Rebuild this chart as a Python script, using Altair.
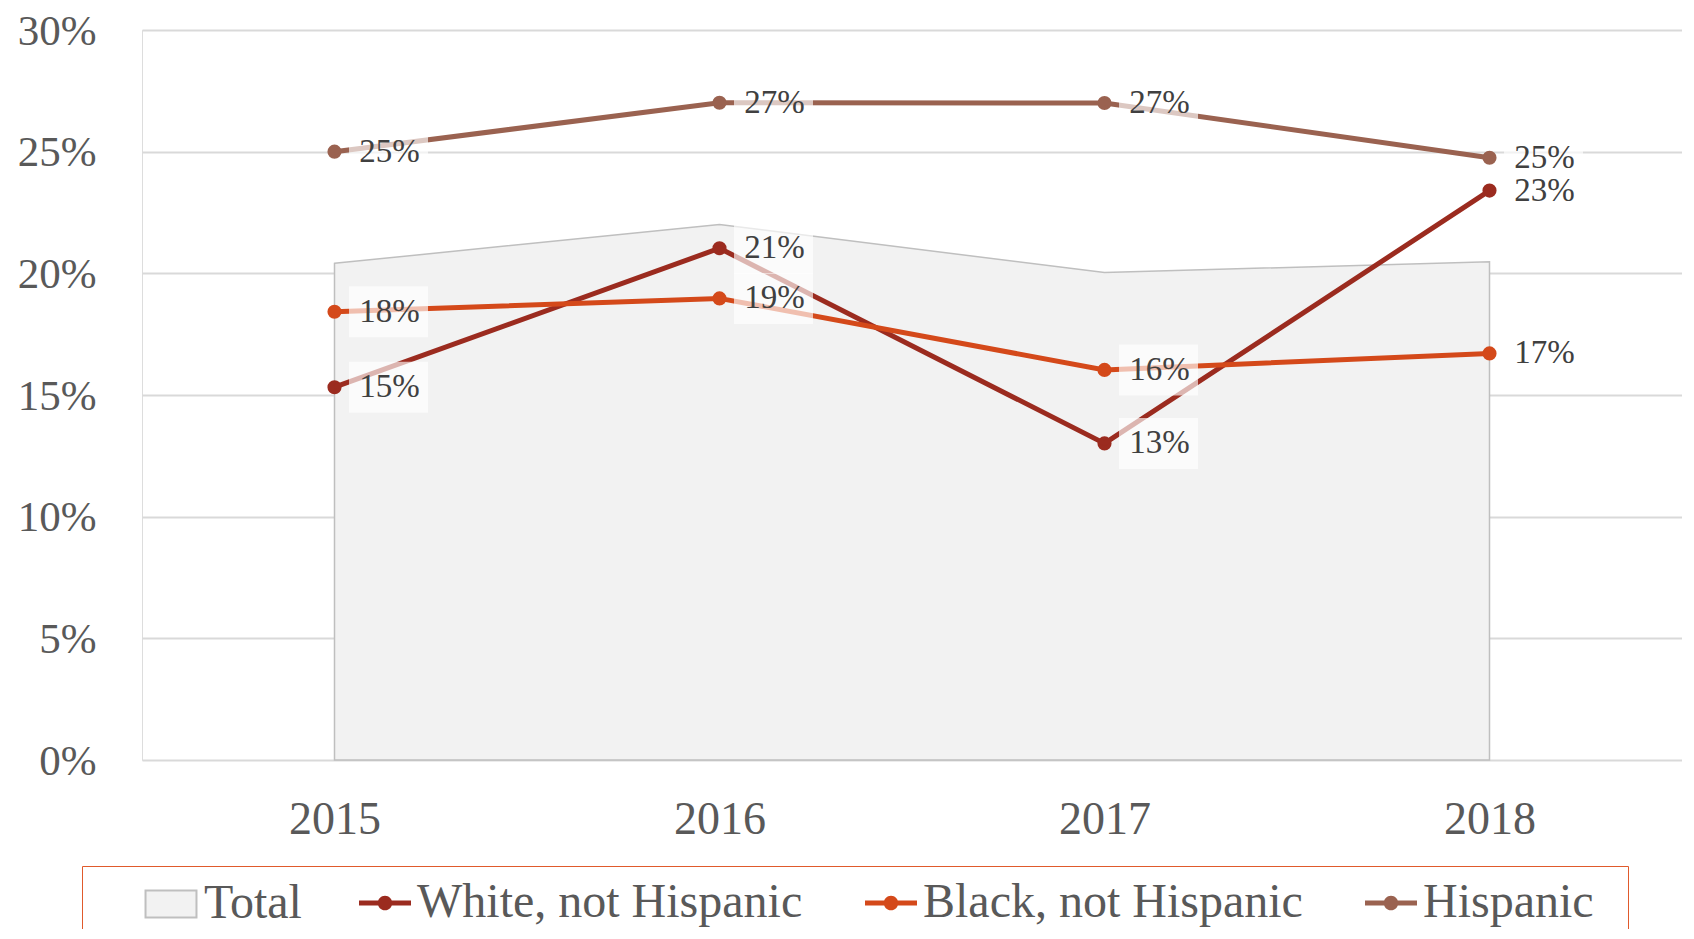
import altair as alt
import pandas as pd

years = ["2015", "2016", "2017", "2018"]
total = [0.2041, 0.2201, 0.2003, 0.2048]
white = [0.1532, 0.2103, 0.1301, 0.2340]
black = [0.1842, 0.1897, 0.1603, 0.1671]
hispanic = [0.2500, 0.2701, 0.2700, 0.2475]

line_names = ["White, not Hispanic", "Black, not Hispanic", "Hispanic"]
line_colors = ["#9B2B1F", "#D4491A", "#9A6250"]
total_name = ["Total"]
total_color = ["#F2F2F2"]
y_ticks = [0, 0.05, 0.10, 0.15, 0.20, 0.25, 0.30]

FONT = "Liberation Serif"

total_df = pd.DataFrame({"year": years, "value": total, "series": "Total"})
rows = []
for name, vals in zip(line_names, [white, black, hispanic]):
    for y, v in zip(years, vals):
        rows.append({"year": y, "value": v, "series": name})
lines_df = pd.DataFrame(rows)

RECT = "M-0.98,-0.52L0.98,-0.52L0.98,0.52L-0.98,0.52Z"
LINEDOT = ("M-1,-0.1L1,-0.1L1,0.1L-1,0.1Z "
           "M0.28,0A0.28,0.28 0 1,1 -0.28,0A0.28,0.28 0 1,1 0.28,0Z")
BOX = "M-0.9875,-0.6375L0.9875,-0.6375L0.9875,0.6375L-0.9875,0.6375Z"

legend_total = alt.Legend(
    title="\u00a0",
    titleOrient="right",
    titlePadding=1315,
    titleFontSize=8,
    orient="none",
    legendX=-60,
    legendY=836,
    direction="horizontal",
    padding=11,
    fillColor="white",
    strokeColor="#E05A2C",
    symbolType=RECT,
    symbolSize=2704,
    symbolOffset=51,
    symbolStrokeColor="#BFBFBF",
    symbolStrokeWidth=2,
    symbolOpacity=1,
    labelOffset=6,
    labelFont=FONT,
    labelFontSize=48,
    labelColor="#595959",
    labelLimit=800,
    zindex=1,
)

legend_lines = alt.Legend(
    title=None,
    orient="none",
    legendX=155,
    legendY=836,
    direction="horizontal",
    columns=3,
    padding=11,
    symbolType=LINEDOT,
    symbolSize=2704,
    symbolOffset=51,
    symbolStrokeWidth=0,
    symbolOpacity=1,
    labelOffset=6,
    columnPadding=11,
    labelFont=FONT,
    labelFontSize=48,
    labelColor="#595959",
    labelLimit=800,
    zindex=2,
)

x = alt.X("year:O", scale=alt.Scale(type="point", padding=0.5),
          axis=alt.Axis(title=None, labelAngle=0, domain=False, ticks=False,
                        labelFont=FONT, labelFontSize=46, labelColor="#595959",
                        labelPadding=73, labelBaseline="alphabetic"))
y = alt.Y("value:Q", scale=alt.Scale(domain=[0, 0.30], nice=False),
          axis=alt.Axis(title=None, values=y_ticks, format=".0%", grid=True,
                        gridColor="#D9D9D9", gridWidth=2, domain=False, ticks=False,
                        labelFont=FONT, labelFontSize=43, labelColor="#595959",
                        labelPadding=46, labelOffset=1))

color = alt.Color("series:N", scale=alt.Scale(domain=line_names, range=line_colors),
                  legend=legend_lines)

area = alt.Chart(total_df).mark_area(stroke="#BFBFBF", strokeWidth=1.5, opacity=1).encode(
    x=x, y=y,
    fill=alt.Fill("series:N", scale=alt.Scale(domain=total_name, range=total_color),
                  legend=legend_total))

pts = alt.Chart(lines_df).mark_circle(size=200, opacity=1).encode(
    x=x, y=y, color=color)

line = alt.Chart(lines_df).mark_line(strokeWidth=5).encode(
    x=x, y=y, color=color)

boxes = alt.Chart(lines_df).mark_point(shape=BOX, size=6400, filled=True, fill="white",
                                       fillOpacity=0.65, strokeWidth=0, xOffset=54).encode(
    x=x, y=y)

labels = alt.Chart(lines_df).mark_text(font=FONT, fontSize=33, color="#404040",
                                      dx=55, align="center", baseline="middle").encode(
    x=x, y=y, text=alt.Text("value:Q", format=".0%"))

chart = alt.layer(area, pts, line, boxes, labels).properties(
    width=1540, height=730,
    autosize="none",
    padding={"left": 134, "top": 22, "right": 0, "bottom": 169},
).configure_view(stroke=None).configure(background="white")

chart.save("out.html", embed_options={"renderer": "svg", "actions": False})
